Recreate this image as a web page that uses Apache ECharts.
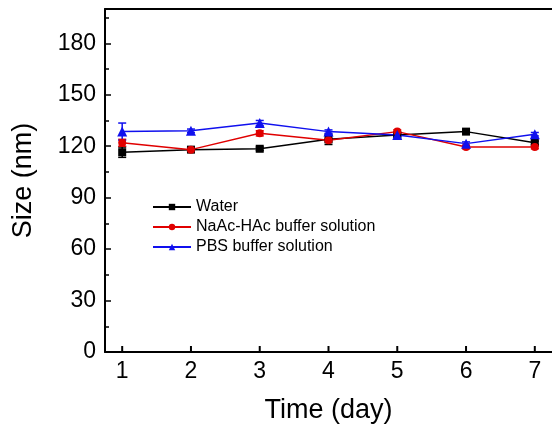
<!DOCTYPE html>
<html>
<head>
<meta charset="utf-8">
<script src="https://cdn.jsdelivr.net/npm/echarts@6/dist/echarts.min.js"></script>
<style>
	html, body { margin: 0; padding: 0; background: #fff; }
	#chart { width: 552px; height: 430px; }
</style>
</head>
<body>
<div id="chart"></div>
<script>
const days = [1, 2, 3, 4, 5, 6, 7];

const waterSize = [116.5, 118, 118.5, 124, 126.5, 128.5, 122];
const waterErr = [3, 1, 1, 3, 1, 1, 1];

const naacSize = [122, 118, 127.5, 123.5, 128.5, 119.5, 119.5];
const naacErr = [2, 1, 1.5, 1, 1, 1, 1];

const pbsSize = [128.5, 129, 133.5, 128.5, 126.5, 121.5, 127];
const pbsErr = [5, 1, 1.5, 1, 1, 1, 1];

const xTicks = [1, 2, 3, 4, 5, 6, 7];

const FONT = '"Liberation Sans", Arial, sans-serif';

function pairs(values) {
	return days.map((d, i) => [d, values[i]]);
}

function errorSeries(values, errs, color) {
	return {
		type: 'custom',
		silent: true,
		z: 1,
		data: days.map((d, i) => [d, values[i] - errs[i], values[i] + errs[i]]),
		renderItem: function (params, api) {
			const lo = api.coord([api.value(0), api.value(1)]);
			const hi = api.coord([api.value(0), api.value(2)]);
			const w = 4;
			const style = { stroke: color, lineWidth: 1.5 };
			return {
				type: 'group',
				children: [
					{ type: 'line', shape: { x1: lo[0], y1: lo[1], x2: hi[0], y2: hi[1] }, style: style },
					{ type: 'line', shape: { x1: lo[0] - w, y1: lo[1], x2: lo[0] + w, y2: lo[1] }, style: style },
					{ type: 'line', shape: { x1: hi[0] - w, y1: hi[1], x2: hi[0] + w, y2: hi[1] }, style: style }
				]
			};
		}
	};
}

function lineSeries(name, values, color, symbol, size) {
	return {
		name: name,
		type: 'line',
		data: pairs(values),
		symbol: symbol,
		symbolSize: size,
		z: 3,
		lineStyle: { color: color, width: 1.5 },
		itemStyle: { color: color }
	};
}

// inside ticks on the x axis at whole days (axis min sits at 0.75)
const xTickSeries = {
	type: 'custom',
	silent: true,
	z: 5,
	data: xTicks.map(t => [t, 0]),
	renderItem: function (params, api) {
		const p = api.coord([api.value(0), api.value(1)]);
		return {
			type: 'line',
			shape: { x1: p[0], y1: p[1], x2: p[0], y2: p[1] - 6 },
			style: { stroke: '#000', lineWidth: 2 }
		};
	}
};

const chart = echarts.init(document.getElementById('chart'));

const option = {
	animation: false,
	backgroundColor: '#fff',
	textStyle: { fontFamily: FONT },
	grid: { left: 105, top: 9, width: 454, height: 343 },
	legend: {
		data: ['Water', 'NaAc-HAc buffer solution', 'PBS buffer solution'],
		orient: 'vertical',
		left: 152,
		top: 199,
		padding: 0,
		itemWidth: 38,
		itemHeight: 8,
		itemGap: 4,
		textStyle: { fontFamily: FONT, fontSize: 16, color: '#000' }
	},
	xAxis: [{
		type: 'value',
		min: 0.75,
		max: 7.25,
		name: 'Time (day)',
		nameLocation: 'middle',
		nameGap: 45,
		nameTextStyle: { fontFamily: FONT, fontSize: 27, color: '#000' },
		axisLine: { show: true, lineStyle: { color: '#000', width: 2 } },
		axisTick: { show: false },
		axisLabel: { customValues: xTicks, fontFamily: FONT, fontSize: 23, color: '#000', margin: 8 },
		splitLine: { show: false }
	}, {
		type: 'value',
		position: 'top',
		min: 0.75,
		max: 7.25,
		axisLine: { show: true, onZero: false, lineStyle: { color: '#000', width: 2 } },
		axisTick: { show: false },
		axisLabel: { show: false },
		splitLine: { show: false }
	}],
	yAxis: {
		type: 'value',
		min: 0,
		max: 200,
		interval: 30,
		name: 'Size (nm)',
		nameLocation: 'middle',
		nameGap: 68,
		nameTextStyle: { fontFamily: FONT, fontSize: 27, color: '#000' },
		axisLine: { show: true, lineStyle: { color: '#000', width: 2 } },
		axisTick: { show: true, inside: true, length: 6, lineStyle: { color: '#000', width: 1.5 } },
		minorTick: { show: true, splitNumber: 2, length: 4, lineStyle: { color: '#000', width: 1.5 } },
		axisLabel: { fontFamily: FONT, fontSize: 23, color: '#000', margin: 9, showMaxLabel: false },
		splitLine: { show: false }
	},
	series: [
		xTickSeries,
		errorSeries(waterSize, waterErr, '#000'),
		errorSeries(naacSize, naacErr, '#e00000'),
		errorSeries(pbsSize, pbsErr, '#1010ee'),
		lineSeries('Water', waterSize, '#000', 'rect', 8),
		lineSeries('NaAc-HAc buffer solution', naacSize, '#e00000', 'circle', 8),
		lineSeries('PBS buffer solution', pbsSize, '#1010ee', 'triangle', 10)
	]
};

chart.setOption(option);
</script>
</body>
</html>
